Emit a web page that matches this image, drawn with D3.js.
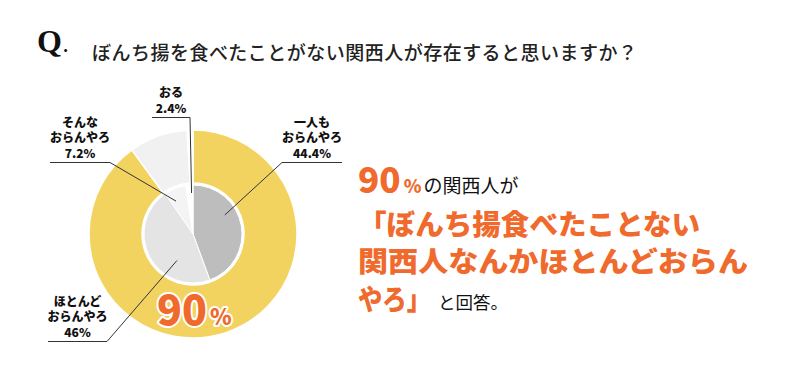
<!DOCTYPE html>
<html><head><meta charset="utf-8">
<script src="https://cdn.jsdelivr.net/npm/d3@7"></script>
<style>
html,body{margin:0;padding:0;background:#fff;}
svg{display:block;}
text{font-family:"Noto Sans CJK JP","Noto Sans",sans-serif;}
</style></head>
<body>
<svg id="c" width="792" height="377"></svg>
<script>
// ---- data ----
const title = "ぼんち揚を食べたことがない関西人が存在すると思いますか？";
const categories = ["一人もおらんやろ", "ほとんどおらんやろ", "そんなおらんやろ", "おる"];
const labelLines = [["一人も", "おらんやろ"], ["ほとんど", "おらんやろ"], ["そんな", "おらんやろ"], ["おる"]];
const values = [44.4, 46, 7.2, 2.4];
const valueLabels = ["44.4%", "46%", "7.2%", "2.4%"];
const outerNames = ["おらん計", "そんなおらん", "おる"];
const outerValues = [90, 9.1, 0.9];
const bigValue = "90";
const summaryLines = ["「ぼんち揚食べたことない", "関西人なんかほとんどおらん", "やろ」"];

// ---- styles / layout ----
const innerColors = ["#bdbdbd", "#e4e4e4", "#f4f4f4", "#ffffff"];
const outerColors = ["#f3d360", "#f1f1f1", "#ffffff"];
const orange = "#ef6a2c";
const cx = 193, cy = 234, rOuter = 104, rRingIn = 51, rInner = 49;
// leader line anchor: fraction along slice, radius
const leaderFrac = [[0.37, 37], [0.31, 31], [0.28, 37], [0.77, 41]];
// label blocks: underline x0,x1,y ; which end connects
const labelLayout = [
  {x0: 282, x1: 342, y: 162.5, join: "start"},
  {x0: 48, x1: 107, y: 341.5, join: "end"},
  {x0: 50, x1: 110, y: 162.5, join: "end"},
  {x0: 152, x1: 190, y: 117.5, join: "end"}
];

const svg = d3.select("#c");

// title
svg.append("text").attr("x", 37).attr("y", 52)
  .style("font-family", "'Liberation Serif','DejaVu Serif',serif")
  .attr("font-weight", 700).attr("font-size", 32).attr("fill", "#111").text("Q");
svg.append("text").attr("x", 63).attr("y", 52)
  .attr("font-weight", 700).attr("font-size", 16).attr("fill", "#111").text(".");
svg.append("text").attr("x", 92).attr("y", 60)
  .attr("font-size", 19).attr("font-weight", 500).attr("fill", "#222")
  .attr("textLength", 545).attr("lengthAdjust", "spacing").text(title);

// outer ring
const g = svg.append("g").attr("transform", `translate(${cx},${cy})`);
const pieOuter = d3.pie().sort(null).value(d => d);
const arcOuter = d3.arc().innerRadius(rRingIn).outerRadius(rOuter);
g.selectAll("path.outer").data(pieOuter(outerValues)).join("path")
  .attr("class", "outer")
  .attr("d", arcOuter)
  .attr("fill", (d, i) => outerColors[i])
  .attr("stroke", "#fff").attr("stroke-width", 1.5);

// inner pie
const pieInner = d3.pie().sort(null).value(d => d);
const arcInner = d3.arc().innerRadius(0).outerRadius(rInner);
const innerArcs = pieInner(values);
g.selectAll("path.inner").data(innerArcs).join("path")
  .attr("class", "inner")
  .attr("d", arcInner)
  .attr("fill", (d, i) => innerColors[i])
  .attr("stroke", "#fff").attr("stroke-width", 1);

// labels and leader lines
innerArcs.forEach((a, i) => {
  const [f, r] = leaderFrac[i];
  const ang = a.startAngle + f * (a.endAngle - a.startAngle);
  const ex = cx + r * Math.sin(ang), ey = cy - r * Math.cos(ang);
  const L = labelLayout[i];
  const pts = L.join === "start"
    ? [[L.x1, L.y], [L.x0, L.y], [ex, ey]]
    : [[L.x0, L.y], [L.x1, L.y], [ex, ey]];
  svg.append("path")
    .attr("d", d3.line()(pts))
    .attr("fill", "none").attr("stroke", "#333").attr("stroke-width", 1);
  const lines = labelLines[i].concat([valueLabels[i]]);
  const xm = (L.x0 + L.x1) / 2;
  const n = lines.length;
  lines.forEach((t, k) => {
    svg.append("text").attr("x", xm).attr("y", L.y - 5 - (n - 1 - k) * 15.5)
      .attr("text-anchor", "middle").attr("font-size", 12).attr("font-weight", 900)
      .attr("fill", "#111").text(t);
  });
});

// big 90% on donut
const big = svg.append("text").attr("x", 157).attr("y", 325)
  .attr("font-weight", 900).attr("fill", orange)
  .attr("stroke", "#fff").attr("stroke-width", 4).attr("stroke-linejoin", "round")
  .style("paint-order", "stroke");
big.append("tspan").attr("font-size", 41).text(bigValue);
big.append("tspan").attr("font-size", 22).attr("dx", 3).text("%");

// right side summary
const t1 = svg.append("text").attr("x", 358).attr("y", 193).attr("font-weight", 900);
t1.append("tspan").attr("font-size", 35).attr("fill", orange).text(bigValue);
t1.append("tspan").attr("font-size", 18).attr("fill", orange).attr("dx", 3).text("%");
t1.append("tspan").attr("font-size", 19).attr("font-weight", 400).attr("fill", "#111").attr("dx", 2).text("の関西人が");

const lens = [342, 390, 73];
const ys = [235, 272, 309.5];
summaryLines.forEach((s, i) => {
  svg.append("text").attr("x", 358).attr("y", ys[i])
    .attr("font-size", 28).attr("font-weight", 900).attr("fill", orange)
    .attr("textLength", lens[i]).attr("lengthAdjust", "spacingAndGlyphs").text(s);
});
svg.append("text").attr("x", 438).attr("y", 309)
  .attr("font-size", 17.5).attr("fill", "#111").text("と回答。");
</script>
</body></html>
